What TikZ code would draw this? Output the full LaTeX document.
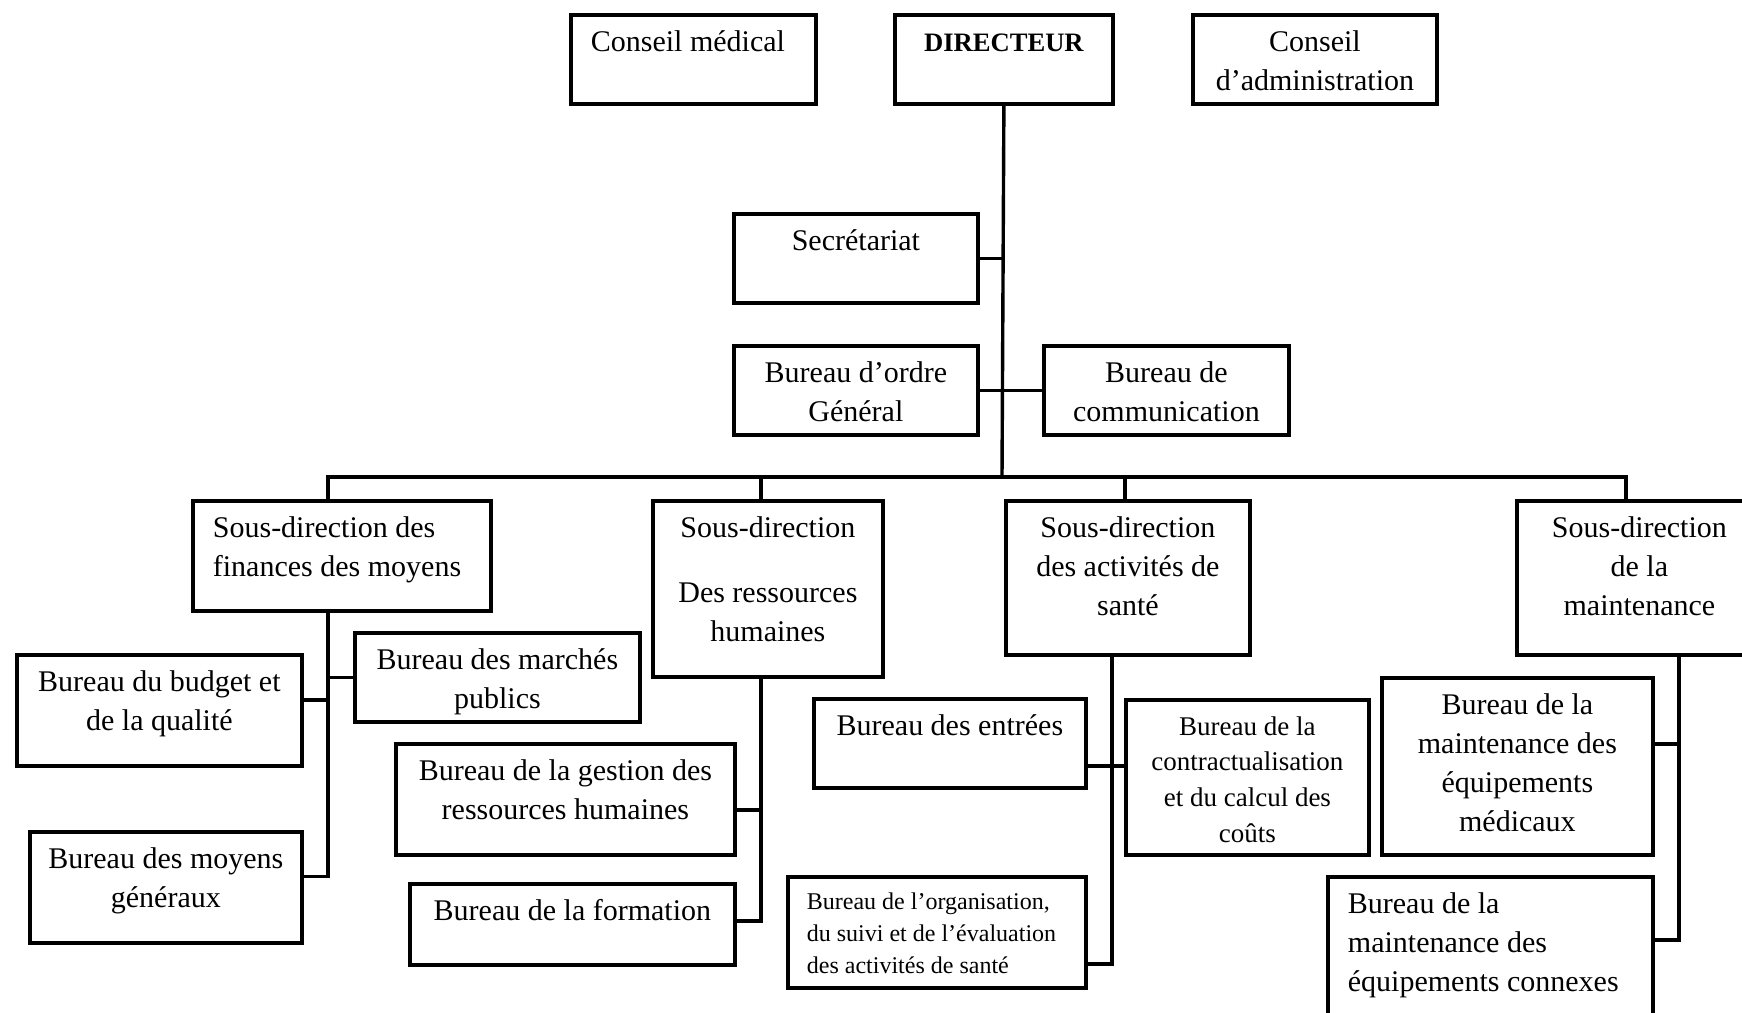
\documentclass[tikz,border=0pt]{standalone}
\usepackage{fontspec}
\setmainfont{Liberation Serif}

\begin{document}
\begin{tikzpicture}[
      x=0.5pt, y=-0.5pt,
      box/.style 2 args={draw, line width=1.9pt, inner xsep=4pt, inner ysep=0pt,
                   anchor=north west, align=flush center, text width=#1,
                   text height=18.5pt, text depth=#2,
                   font=\fontsize{15}{19.5}\selectfont},
      link/.style={line width=1.7pt}
    ]
      \useasboundingbox (0,0) rectangle (1742,1013);
      \clip (0,0) rectangle (1742,1013);

      % top row
      \node[box={102.5pt}{26pt}, align=flush left, inner xsep=10pt] (cm) at (569,13) {Conseil médical};
      \node[box={101pt}{26pt}, font=\fontsize{13.3}{16}\selectfont\bfseries] (dir) at (893,13) {DIRECTEUR};
      \node[box={114pt}{26pt}] (ca) at (1191,13) {Conseil\\d’administration};

      \node[box={114pt}{26pt}] (sec) at (732,212) {Secrétariat};
      \node[box={114pt}{26pt}] (bo) at (732,344) {Bureau d’ordre\\Général};
      \node[box={114.5pt}{26pt}] (bc) at (1042,344) {Bureau de\\communication};

      % sous-directions
      \node[box={129pt}{36.5pt}, align=flush left, inner xsep=10pt] (sdf) at (191,499) {Sous-direction des\\finances des moyens};
      \node[box={107pt}{69.5pt}] (sdrh) at (651,499) {Sous-direction\\[12.75pt]Des ressources\\humaines};
      \node[box={114pt}{58.5pt}] (sds) at (1004,499) {Sous-direction\\des activités de\\santé};
      \node[box={114.5pt}{58.5pt}] (sdm) at (1515,499) {Sous-direction\\de la\\maintenance};

      % bureaux
      \node[box={134.5pt}{37pt}] (bbq) at (15,653) {Bureau du budget et\\de la qualité};
      \node[box={134.5pt}{26pt}] (bmp) at (353,631) {Bureau des marchés\\publics};
      \node[box={128pt}{37pt}] (bmg) at (28,830) {Bureau des moyens\\généraux};
      \node[box={161.5pt}{37pt}] (bgrh) at (394,742) {Bureau de la gestion des\\ressources humaines};
      \node[box={154.5pt}{22pt}] (bfor) at (408,882) {Bureau de la formation};
      \node[box={128pt}{26pt}] (bent) at (812,697) {Bureau des entrées};
      \node[box={113.5pt}{59.8pt}, text height=17.7pt, font=\fontsize{13.5}{17.8}\selectfont] (bcc) at (1124,698)
        {Bureau de la\\contractualisation\\et du calcul des\\coûts};
      \node[box={130pt}{39pt}, text height=16.5pt, font=\fontsize{12}{16}\selectfont,
            align=flush left, inner xsep=9.5pt] (bose) at (786,875)
        {Bureau de l’organisation,\\du suivi et de l’évaluation\\des activités de santé};
      \node[box={127.5pt}{70pt}] (bmem) at (1380,676) {Bureau de la\\maintenance des\\équipements\\médicaux};
      \node[box={142.5pt}{64pt}, align=flush left, inner xsep=10pt] (bmec) at (1326,875)
        {Bureau de la\\maintenance des\\équipements connexes};

      % direction trunk and bus
      \coordinate (bus) at (1002,477);
      \draw[link] (dir.south) -- (bus);
      \draw[link] (sec.east) -- (sec.east -| bus);
      \draw[link] (bo.east) -- (bc.west);
      \draw[link] ([xshift=-7pt]sdf.north) |- (bus) -| ([xshift=-6.75pt]sdm.north);
      \draw[link] ([xshift=-3.5pt]sdrh.north) -- ([xshift=-3.5pt]sdrh.north |- bus);
      \draw[link] ([xshift=-1.5pt]sds.north) -- ([xshift=-1.5pt]sds.north |- bus);

      % finances
      \coordinate (tf) at ([xshift=-7pt]sdf.south);
      \draw[link] (tf) |- ([yshift=5.5pt]bmg.east);
      \draw[link] ([yshift=5.25pt]bbq.east) -| (tf);
      \draw[link] (bmp.west) -| (tf);

      % ressources humaines
      \coordinate (tr) at ([xshift=-3.5pt]sdrh.south);
      \draw[link] (tr) |- ([yshift=1.75pt]bfor.east);
      \draw[link] ([yshift=-5.25pt]bgrh.east) -| (tr);

      % sante
      \coordinate (ts) at ([xshift=-8pt]sds.south);
      \draw[link] (ts) |- ([yshift=-15.75pt]bose.east);
      \draw[link] ([yshift=-11.25pt]bent.east) -- ([yshift=-11.25pt]bent.east -| bcc.west);

      % maintenance
      \coordinate (tm) at ([xshift=19.75pt]sdm.south);
      \draw[link] (tm) |- ([yshift=-32.5pt]bmec.north east);
      \draw[link] ([yshift=11.25pt]bmem.east) -| (tm);
    \end{tikzpicture}
\end{document}
